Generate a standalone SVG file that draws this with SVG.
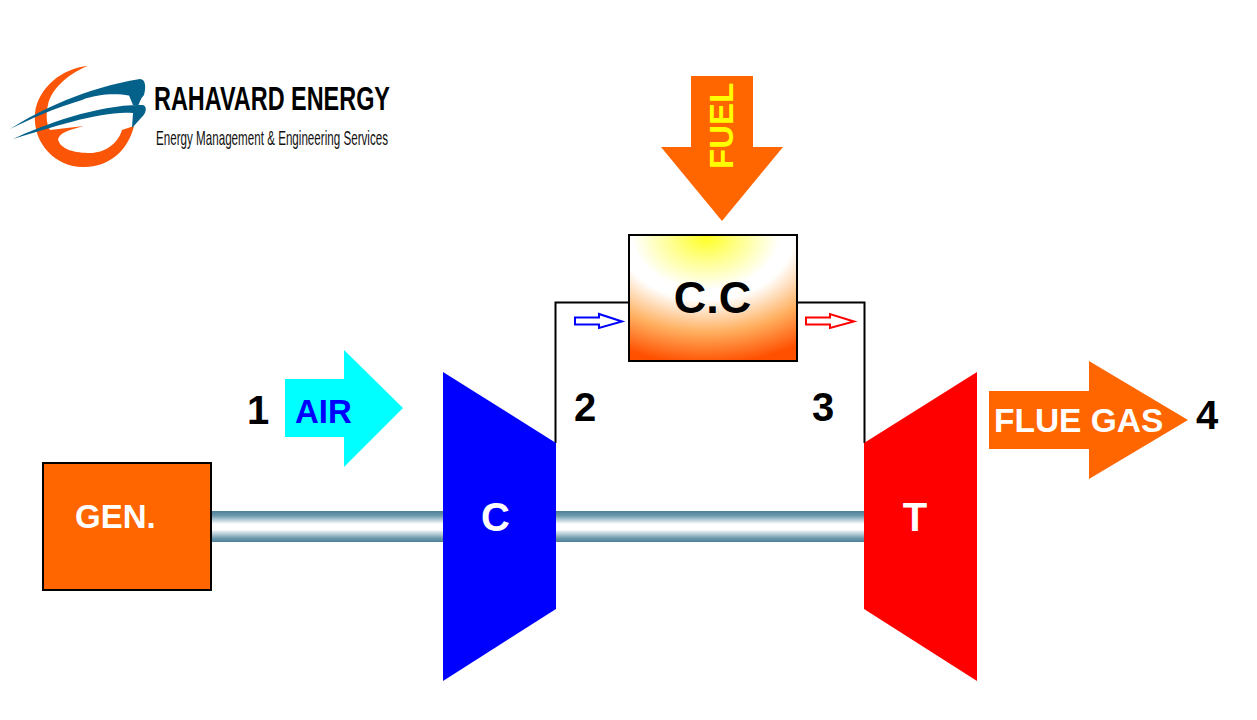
<svg xmlns="http://www.w3.org/2000/svg" width="1257" height="720" viewBox="0 0 1257 720">
<style>
text{font-family:"Liberation Sans",Arial,sans-serif;font-weight:700}
.t40{font-size:40px;fill:#000}
.w{fill:#fff}
.ln{fill:none;stroke:#000;stroke-width:2}
.logo{font-family:"Liberation Sans",Arial,sans-serif}
</style>
<defs>
<linearGradient id="shaft" x1="0" y1="0" x2="0" y2="1">
<stop offset="0" stop-color="#4d7f97"/><stop offset=".15" stop-color="#6d99ad"/><stop offset=".42" stop-color="#fff"/><stop offset=".6" stop-color="#fff"/><stop offset=".88" stop-color="#6d99ad"/><stop offset="1" stop-color="#4d7f97"/>
</linearGradient>
<radialGradient id="cc" gradientUnits="userSpaceOnUse" cx="0" cy="0" r="1" gradientTransform="translate(706 236) scale(175 128)">
<stop offset="0" stop-color="#ffff20"/><stop offset=".2" stop-color="#ffff90"/><stop offset=".42" stop-color="#fff"/><stop offset=".5" stop-color="#fff"/><stop offset=".75" stop-color="#ffb060"/><stop offset="1" stop-color="#ff5000"/>
</radialGradient>
</defs>

<g id="connectors">
<rect id="shaft-left" x="211" y="511" width="233" height="31" fill="url(#shaft)"/>
<rect id="shaft-right" x="555" y="511" width="310" height="31" fill="url(#shaft)"/>
<path class="ln" d="M555.500 443V302.500H630"/>
<path class="ln" d="M796 302.500H864.500V443"/>
<path d="M575 317.500H599V314L622 321.500L599 328V324.500H575Z" fill="#fff" stroke="#00f" stroke-width="2"/>
<path d="M806 317.500H830V314L854 321.500L830 328V324.500H806Z" fill="#fff" stroke="#f00" stroke-width="2"/>
</g>

<g id="logo">
<path d="M88 66C62 68 38 88 35 113C32 145 58 168 84 167C110 167 128 150 134 126L122 130C118 144 104 153 90 153C76 153 60 150 58 139C60 133 68 130 84 126L50 130C46 124 46 112 48 105C50 92 66 74 88 66Z" fill="#fb5607"/>
<path d="M10 129C40 110 85 88 140 79C146 79 146 88 144 95L140 100C128 92 100 93 82 100C55 108 30 119 10 129Z" fill="#04618a"/>
<path d="M13 139C45 124 100 104 143 105C147 106 147 113 141 118L132 128L133 113C105 110 55 126 13 139Z" fill="#04618a"/>
<path d="M128 93L141 99L138 106L133 105Z" fill="#04618a"/>
<text class="logo" x="154" y="110" font-size="34" textLength="236" lengthAdjust="spacingAndGlyphs" fill="#000">RAHAVARD ENERGY</text>
<text class="logo" x="156" y="145" font-size="21" textLength="232" lengthAdjust="spacingAndGlyphs" style="font-weight:400" fill="#111">Energy Management &amp; Engineering Services</text>
</g>

<g id="fuel">
<path d="M691 76H753V147H783L722 221L661 147H691Z" fill="#ff6600"/>
<text transform="translate(733 169) rotate(-90)" font-size="33" fill="#ffff00">FUEL</text>
</g>

<g id="combustion-chamber">
<rect x="629" y="235" width="168" height="126" fill="url(#cc)" stroke="#000" stroke-width="2"/>
<text class="t40" x="712.500" y="313" text-anchor="middle" style="font-size:45px">C.C</text>
</g>

<g id="air">
<path d="M285 379H344V350L403 408L344 467V437H285Z" fill="#00ffff"/>
<text x="295" y="423" font-size="33" fill="#0000ff">AIR</text>
<text class="t40" x="247" y="424">1</text>
</g>

<g id="generator">
<rect x="43" y="463" width="168" height="127" fill="#ff6600" stroke="#000" stroke-width="2"/>
<text class="w" x="75" y="528" font-size="33">GEN.</text>
</g>

<g id="compressor">
<path d="M443 372L556 443V609L443 681Z" fill="#0000ff"/>
<text class="w" x="495.500" y="531" text-anchor="middle" font-size="40">C</text>
<text class="t40" x="574" y="421">2</text>
</g>

<g id="turbine">
<path d="M864 443L977 372V681L864 609Z" fill="#ff0000"/>
<text class="w" x="915" y="531" text-anchor="middle" font-size="40">T</text>
<text class="t40" x="812" y="421">3</text>
</g>

<g id="flue-gas">
<path d="M989 391H1089V361L1188 420L1089 479V449H989Z" fill="#ff6600"/>
<text class="w" x="994" y="432" font-size="33.500">FLUE GAS</text>
<text class="t40" x="1196" y="429">4</text>
</g>
</svg>
